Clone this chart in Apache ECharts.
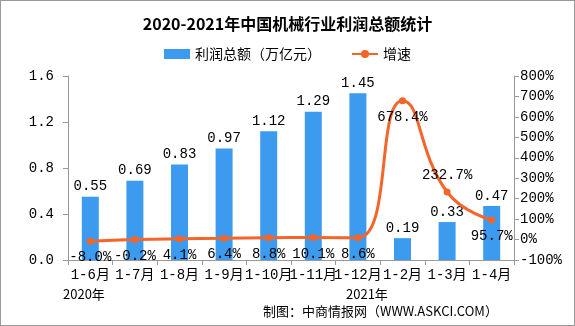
<!DOCTYPE html>
<html><head><meta charset="utf-8">
<script src="https://cdn.jsdelivr.net/npm/echarts@6/dist/echarts.min.js"></script>
<style>html,body{margin:0;padding:0;background:#fff}#c{width:573px;height:324px;border:1px solid #999;}</style>
</head><body><div id="c"></div>
<script>
const categories = ['1-6月','1-7月','1-8月','1-9月','1-10月','1-11月','1-12月','1-2月','1-3月','1-4月'];
const profit = [0.55,0.69,0.83,0.97,1.12,1.29,1.45,0.19,0.33,0.47];
const growth = [-8.0,-0.2,4.1,6.4,8.8,10.1,8.6,678.4,232.7,95.7];
const growthLabelPos = ['bottom','bottom','bottom','bottom','bottom','bottom','bottom','bottom','top','bottom'];
const leftTicks = [0,1.6,0.4];
const rightTicks = [-100,800,100];

const F = '"Noto Sans CJK SC", sans-serif';
const M = '"Liberation Mono", "Noto Sans CJK SC", monospace';
const chart = echarts.init(document.getElementById('c'));
chart.setOption({
  animation:false,
  title:{text:'2020-2021年中国机械行业利润总额统计',left:'center',top:10,
    textStyle:{fontSize:16,fontWeight:'bold',color:'#000',fontFamily:F}},
  legend:{top:41,left:'center',itemGap:30,itemWidth:26,itemHeight:10,
    textStyle:{fontSize:14,color:'#000',fontFamily:F},
    data:[{name:'利润总额（万亿元）',icon:'rect'},{name:'增速'}]},
  grid:{left:67,right:60,top:75,bottom:65,containLabel:false},
  xAxis:{type:'category',data:categories,
    axisLine:{lineStyle:{color:'#999'}},
    axisTick:{show:true,interval:0,length:5,lineStyle:{color:'#999'}},
    axisLabel:{interval:0,color:'#000',fontSize:14,fontFamily:M,margin:8}},
  yAxis:[
    {type:'value',min:leftTicks[0],max:leftTicks[1],interval:leftTicks[2],
     splitLine:{show:false},
     axisLine:{show:true,lineStyle:{color:'#999'}},
     axisTick:{show:true,length:5,lineStyle:{color:'#999'}},
     axisLabel:{color:'#000',fontSize:14,fontFamily:M,margin:14,formatter:v=>v.toFixed(1)}},
    {type:'value',min:rightTicks[0],max:rightTicks[1],interval:rightTicks[2],
     splitLine:{show:false},
     axisLine:{show:true,lineStyle:{color:'#999'}},
     axisTick:{show:true,length:5,lineStyle:{color:'#999'}},
     axisLabel:{color:'#000',fontSize:14,fontFamily:M,margin:6,formatter:'{value}%'}}
  ],
  series:[
    {name:'利润总额（万亿元）',type:'bar',data:profit,barWidth:17,
     itemStyle:{color:'#3D9BEF'},
     label:{show:true,position:'top',distance:3,color:'#000',fontSize:14,fontFamily:M}},
    {name:'增速',type:'line',yAxisIndex:1,smooth:0.5,
     data:growth.map((v,i)=>({value:v,label:{position:growthLabelPos[i]}})),
     symbol:'circle',symbolSize:7,
     lineStyle:{color:'#F4652A',width:3},itemStyle:{color:'#F4652A'},
     label:{show:true,distance:6,color:'#000',fontSize:14,fontFamily:M,formatter:p=>p.value.toFixed(1)+'%'}}
  ],
  graphic:[
    {type:'text',left:62,top:287,style:{text:'2020年',fontSize:13,fill:'#000',fontFamily:F}},
    {type:'text',left:345,top:287,style:{text:'2021年',fontSize:13,fill:'#000',fontFamily:F}},
    {type:'text',left:262,top:304,style:{text:'制图：中商情报网（WWW.ASKCI.COM）',fontSize:13,fill:'#000',fontFamily:F}}
  ]
});
</script></body></html>
